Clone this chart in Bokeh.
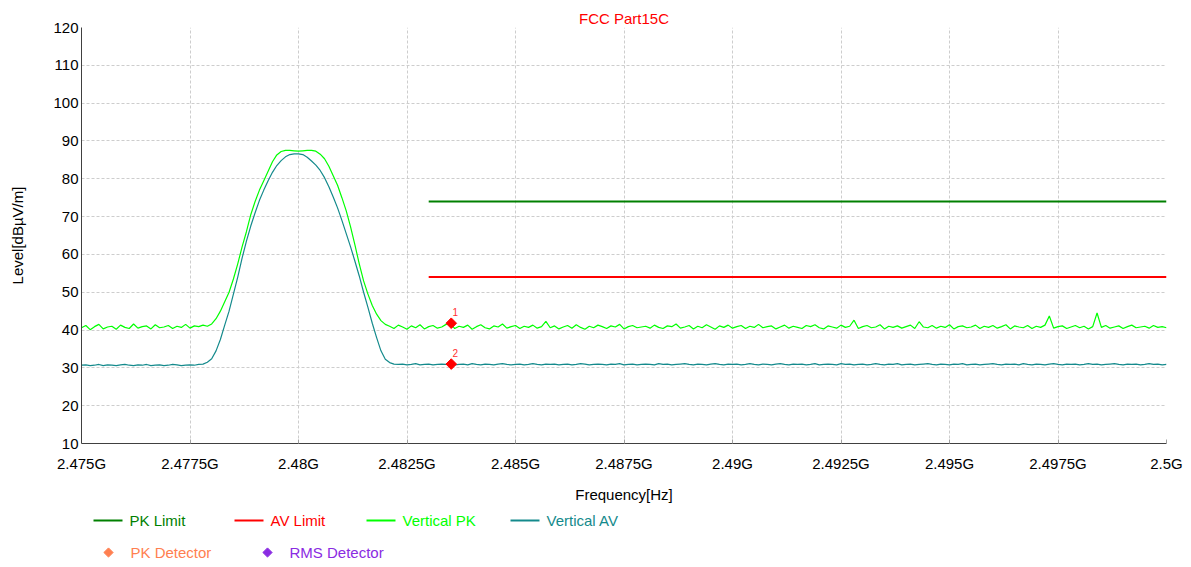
import numpy as np
from bokeh.plotting import figure
from bokeh.layouts import column
from bokeh.models import Range1d, FixedTicker
from bokeh.embed import file_html
from bokeh.resources import INLINE
from bokeh.core.properties import value

FONT = "Liberation Sans"

# ---------------- data ----------------
title_text = "FCC Part15C"
x_label = "Frequency[Hz]"
y_label = "Level[dBµV/m]"

x_ticks = [2.475, 2.4775, 2.48, 2.4825, 2.485, 2.4875, 2.49, 2.4925, 2.495, 2.4975, 2.5]
x_tick_labels = ["2.475G", "2.4775G", "2.48G", "2.4825G", "2.485G", "2.4875G",
                 "2.49G", "2.4925G", "2.495G", "2.4975G", "2.5G"]
y_ticks = [10, 20, 30, 40, 50, 60, 70, 80, 90, 100, 110, 120]

sweep_start = 2.475  # GHz
sweep_stop = 2.5     # GHz

vertical_pk = [
    40.6, 41.2, 40.1, 40.9, 41.5, 40.3, 40.8, 41.0, 40.2, 41.3,
    40.7, 40.4, 41.6, 40.5, 40.9, 41.1, 40.3, 41.4, 40.6, 40.8,
    41.2, 40.4, 41.0, 40.7, 41.5, 40.5, 41.1, 40.9, 41.3, 41.0,
    41.6, 43.0, 45.0, 47.5, 50.0, 53.5, 57.5, 62.0, 66.0, 70.5,
    74.0, 77.0, 79.5, 82.0, 84.5, 86.3, 87.2, 87.5, 87.5, 87.4,
    87.3, 87.4, 87.5, 87.5, 87.3, 86.5, 85.3, 83.3, 80.8, 78.3,
    75.0, 71.5, 67.3, 62.5, 57.5, 53.0, 49.5, 46.5, 44.2, 42.5,
    41.5, 41.0, 40.4, 41.3, 40.8, 40.2, 41.1, 40.6, 41.4, 40.3,
    40.9, 41.2, 40.5, 40.8, 41.5, 41.8, 40.4, 41.0, 40.7, 41.3,
    40.2, 40.9, 41.4, 40.6, 40.3, 41.1, 40.8, 41.6, 40.5, 40.9,
    41.2, 40.4, 41.0, 40.7, 41.3, 40.5, 40.9, 42.3, 40.6, 41.1,
    40.3, 40.8, 41.2, 40.5, 41.4, 40.7, 40.2, 41.0, 40.6, 41.3,
    40.9, 40.4, 41.1, 40.8, 41.5, 40.3, 40.9, 41.2, 40.6, 40.8,
    41.0, 40.5, 41.3, 40.7, 40.4, 41.1, 40.9, 41.6, 40.5, 40.8,
    41.2, 40.3, 41.0, 40.6, 41.4, 40.8, 40.2, 41.1, 40.7, 41.3,
    40.5, 40.9, 41.2, 40.4, 41.0, 40.7, 41.5, 40.6, 40.9, 41.1,
    40.3, 40.8, 41.3, 40.5, 41.0, 40.7, 40.4, 41.2, 40.9, 41.4,
    40.6, 40.3, 41.1, 40.8, 40.5, 41.3, 40.7, 41.0, 42.6, 40.4,
    40.9, 41.2, 40.6, 40.8, 41.4, 40.3, 41.0, 40.7, 41.1, 40.5,
    40.9, 41.3, 40.4, 42.2, 40.8, 40.6, 41.2, 40.5, 41.0, 40.7,
    41.4, 40.3, 40.9, 41.1, 40.6, 40.8, 41.3, 40.4, 41.0, 40.7,
    41.2, 40.5, 40.9, 41.4, 40.3, 41.1, 40.8, 40.6, 41.2, 40.4,
    41.0, 40.7, 41.3, 43.7, 40.5, 40.9, 41.1, 40.4, 40.8, 41.2,
    40.6, 41.0, 40.3, 40.9, 44.5, 40.7, 41.2, 40.5, 40.8, 41.1,
    40.4, 40.9, 41.3, 40.6, 40.8, 41.0, 40.5, 41.2, 40.7, 40.9,
    40.6,
]

vertical_av = [
    30.7, 30.8, 30.6, 30.7, 30.9, 30.6, 30.8, 30.7, 30.6, 30.8,
    30.9, 30.7, 30.6, 30.8, 30.7, 30.9, 30.6, 30.7, 30.8, 30.6,
    30.7, 30.9, 30.8, 30.6, 30.7, 30.8, 30.7, 30.9, 31.0, 31.5,
    32.4, 34.5, 37.5, 41.3, 45.0, 49.5, 54.0, 59.0, 63.5, 67.5,
    71.0, 74.3, 77.0, 79.5, 81.7, 83.5, 84.8, 85.8, 86.4, 86.6,
    86.6, 86.4, 85.7, 84.7, 83.6, 82.2, 80.3, 77.9, 75.2, 72.3,
    69.0, 65.5, 62.0, 58.2, 54.3, 50.0, 46.0, 41.8, 38.0, 34.5,
    32.3, 31.4, 31.0, 30.9, 31.0, 30.8, 30.9, 31.1, 30.8, 30.9,
    31.0, 30.8, 30.9, 31.0, 30.9, 31.1, 30.8, 30.9, 31.0, 30.8,
    31.1, 30.9, 30.8, 31.0, 30.9, 30.8, 31.0, 31.1, 30.9, 30.8,
    30.9, 31.0, 30.8, 30.9, 31.1, 30.9, 30.8, 31.0, 30.9, 31.0,
    30.8, 30.9, 31.0, 30.8, 30.9, 31.1, 31.0, 30.8, 30.9, 31.0,
    30.9, 30.8, 31.0, 30.9, 31.1, 30.8, 30.9, 31.0, 30.8, 30.9,
    31.0, 30.9, 30.8, 31.1, 30.9, 31.0, 30.8, 30.9, 31.0, 31.1,
    30.9, 30.8, 31.0, 30.9, 30.8, 31.0, 31.1, 30.9, 30.8, 31.0,
    30.9, 31.0, 30.8, 30.9, 31.1, 30.9, 30.8, 31.0, 30.9, 30.8,
    31.0, 31.1, 30.9, 30.8, 31.0, 30.9, 31.0, 30.8, 30.9, 31.1,
    30.8, 30.9, 31.0, 30.9, 30.8, 31.1, 30.9, 31.0, 30.8, 30.9,
    31.0, 30.8, 30.9, 31.1, 30.9, 30.8, 31.0, 30.9, 31.1, 30.8,
    30.9, 31.0, 30.8, 30.9, 31.0, 31.1, 30.9, 30.8, 31.0, 30.9,
    30.8, 31.0, 30.9, 31.1, 30.8, 30.9, 31.0, 30.8, 30.9, 31.0,
    31.1, 30.9, 30.8, 31.0, 30.9, 31.0, 30.8, 31.1, 30.9, 30.8,
    31.0, 30.9, 30.8, 31.0, 31.1, 30.9, 30.8, 31.0, 30.9, 31.0,
    30.8, 30.9, 31.1, 30.9, 31.0, 30.8, 30.9, 31.0, 31.1, 30.9,
    30.8, 31.0, 30.9, 31.0, 30.8, 30.9, 31.1, 30.9, 31.0, 30.8,
    30.9,
]

limit_freq = [2.483, 2.5]
pk_limit = [74, 74]
av_limit = [54, 54]

marker_freq = [2.48352, 2.48352]
marker_level = [41.8, 31.0]
marker_text = ["1", "2"]

legend_labels = ["PK Limit", "AV Limit", "Vertical PK", "Vertical AV"]
legend_colors = ["#008000", "#FF0000", "#00FF00", "#148A8C"]
detector_labels = ["PK Detector", "RMS Detector"]
detector_colors = ["#FF7F50", "#8A2BE2"]

PK_LIMIT_C, AV_LIMIT_C, PK_C, AV_C = legend_colors

# ---------------- layout constants (page pixels) ----------------
W = 1183
FRAME_L, FRAME_R = 81, 1166
FRAME_T, FRAME_B = 27, 445
MAIN_H = 505

# ---------------- main figure ----------------
freq_pk = np.linspace(sweep_start, sweep_stop, len(vertical_pk))
freq_av = np.linspace(sweep_start, sweep_stop, len(vertical_av))

p = figure(width=W, height=MAIN_H, output_backend="svg", toolbar_location=None,
           x_range=Range1d(sweep_start, sweep_stop), y_range=Range1d(10, 120),
           min_border_left=FRAME_L, min_border_right=W - FRAME_R,
           min_border_top=FRAME_T, min_border_bottom=MAIN_H - FRAME_B)
p.outline_line_color = None
p.background_fill_color = "white"

p.title.text = title_text
p.title.align = "center"
p.title.text_color = "#FF0000"
p.title.text_font = FONT
p.title.text_font_size = "15px"
p.title.text_font_style = "normal"
p.title.standoff = 1

p.line(freq_pk, vertical_pk, color=PK_C, line_width=1.2)
p.line(freq_av, vertical_av, color=AV_C, line_width=1.2)
p.line(limit_freq, pk_limit, color=PK_LIMIT_C, line_width=2)
p.line(limit_freq, av_limit, color=AV_LIMIT_C, line_width=2)

p.scatter(marker_freq, marker_level, marker="square", angle=np.pi / 4, size=7.5,
          color="#FF0000")
p.text(marker_freq, marker_level, text=marker_text, x_offset=4, y_offset=-7,
       text_align="center", text_baseline="bottom", text_color="#FF3030",
       text_font=value(FONT), text_font_size="10px")

p.xaxis.ticker = FixedTicker(ticks=x_ticks)
p.xaxis.major_label_overrides = dict(zip(x_ticks, x_tick_labels))
p.yaxis.ticker = FixedTicker(ticks=y_ticks)

for ax in (p.xaxis, p.yaxis):
    ax.axis_line_color = "#404040"
    ax.minor_tick_line_color = None
    ax.major_label_text_font = FONT
    ax.major_label_text_font_size = "15px"
    ax.major_label_text_color = "#000000"
    ax.axis_label_text_font = FONT
    ax.axis_label_text_font_size = "15px"
    ax.axis_label_text_font_style = "normal"
    ax.axis_label_text_color = "#000000"

p.xaxis.axis_label = x_label
p.yaxis.axis_label = y_label
p.xaxis.major_tick_in = 4
p.xaxis.major_tick_out = 0
p.xaxis.major_tick_line_color = "#A0A0A0"
p.xaxis.major_label_standoff = 11
p.xaxis.axis_label_standoff = 11
p.yaxis.major_tick_line_color = None
p.yaxis.major_tick_in = 0
p.yaxis.major_tick_out = 0
p.yaxis.major_label_standoff = 3
p.yaxis.axis_label_standoff = 24

p.grid.grid_line_color = "#CDCDCD"
p.grid.grid_line_dash = "3 2"
p.grid.grid_line_width = 1

# ---------------- legend figure (coordinates = page pixels) ----------------
LEG_H = 60
leg = figure(width=W, height=LEG_H, output_backend="svg", toolbar_location=None,
             x_range=Range1d(FRAME_L, FRAME_R), y_range=Range1d(MAIN_H + LEG_H, MAIN_H),
             min_border_left=FRAME_L, min_border_right=W - FRAME_R,
             min_border_top=0, min_border_bottom=0,
             x_axis_type=None, y_axis_type=None)
leg.outline_line_color = None
leg.grid.visible = False

row1_y = 520
row2_y = 552
line_starts = np.array([93, 234, 366, 510])
line_len = 29
text_gap = 36
leg.segment(x0=line_starts, y0=[row1_y] * 4, x1=line_starts + line_len,
            y1=[row1_y] * 4, color=legend_colors, line_width=2)
leg.text(x=line_starts + text_gap, y=[row1_y] * 4, text=legend_labels,
         text_color=legend_colors, text_font=value(FONT), text_font_size="15px",
         text_baseline="middle", text_align="left")

det_centers = np.array([108, 267])
leg.scatter(x=det_centers, y=[row2_y] * 2, marker="square", angle=np.pi / 4,
            size=6.5, color=detector_colors)
leg.text(x=det_centers + 22, y=[row2_y] * 2, text=detector_labels,
         text_color=detector_colors, text_font=value(FONT), text_font_size="15px",
         text_baseline="middle", text_align="left")

layout = column(p, leg, spacing=0)
open("out.html", "w").write(file_html(layout, INLINE))
